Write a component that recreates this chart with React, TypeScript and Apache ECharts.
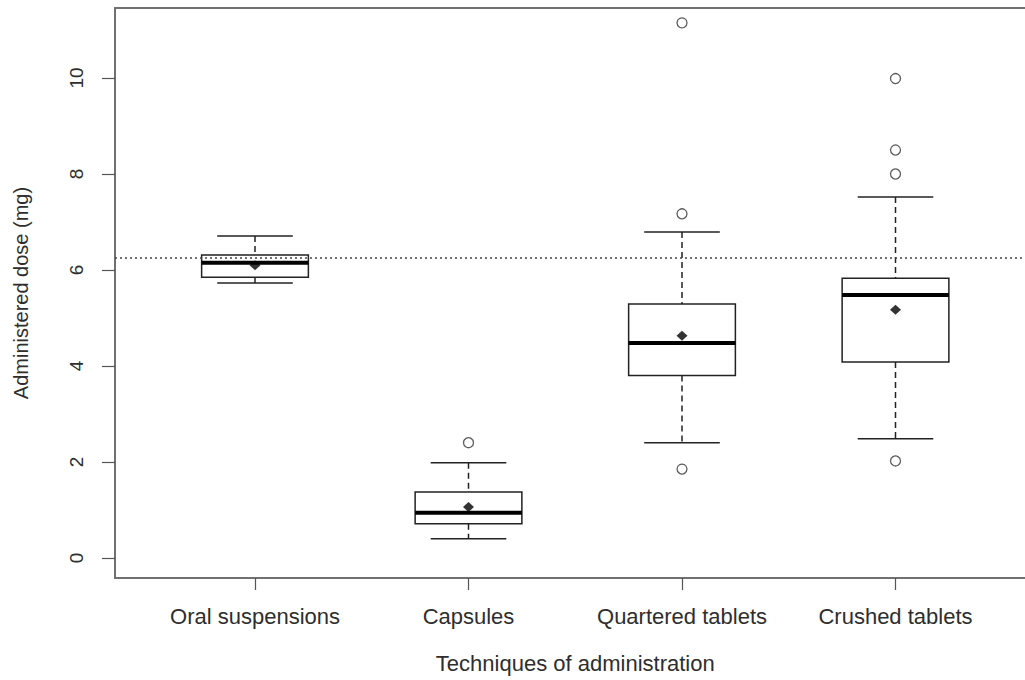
import React, { useEffect, useRef } from "react";
import * as echarts from "echarts";

const categories = ["Oral suspensions", "Capsules", "Quartered tablets", "Crushed tablets"];
const lowerWhisker = [5.73, 0.4, 2.4, 2.48];
const q1 = [5.85, 0.71, 3.8, 4.08];
const median = [6.15, 0.94, 4.48, 5.48];
const q3 = [6.31, 1.375, 5.29, 5.83];
const upperWhisker = [6.71, 1.98, 6.79, 7.52];
const means = [6.1, 1.06, 4.63, 5.17];
const outliers: number[][] = [[], [2.4], [11.15, 7.17, 1.85], [9.99, 8.5, 8.0, 2.02]];
const yTicks = [0, 2, 4, 6, 8, 10];
const referenceDose = 6.25;

const FONT = "'Liberation Sans', Arial, sans-serif";
const TEXT = "#2e2e2e";
const FRAME = { show: true, onZero: false, lineStyle: { color: "#707070", width: 2 } };

export default function App() {
  const ref = useRef<HTMLDivElement>(null);
  useEffect(() => {
    if (!ref.current) return;
    const chart = echarts.init(ref.current, undefined, { renderer: "svg" });
    const boxData = categories.map((_, i) => [i, lowerWhisker[i], q1[i], median[i], q3[i], upperWhisker[i]]);
    const outlierData: number[][] = [];
    outliers.forEach((arr, i) => arr.forEach((v) => outlierData.push([i, v])));
    const meanData = means.map((v, i) => [i, v]);
    const yMin = -0.42;
    const yMax = 11.46;
    chart.setOption({
      animation: false,
      backgroundColor: "#fff",
      textStyle: { fontFamily: FONT },
      grid: [
        { left: 115, top: 8, width: 921, height: 570, outerBoundsMode: "none", containLabel: false },
        { left: 148.25, top: 8, width: 854, height: 570, outerBoundsMode: "none", containLabel: false },
      ],
      xAxis: [
        {
          gridIndex: 0, type: "value", min: 0.34, max: 4.66, position: "bottom",
          axisLine: FRAME, axisTick: { show: false }, axisLabel: { show: false }, splitLine: { show: false },
        },
        {
          gridIndex: 1,
          type: "category",
          data: categories,
          axisLine: { show: false, onZero: false },
          axisTick: { show: true, alignWithLabel: true, length: 12, lineStyle: { color: "#555", width: 1.2 } },
          axisLabel: { fontSize: 22, color: TEXT, margin: 27, fontFamily: FONT, interval: 0 },
          name: "Techniques of administration",
          nameLocation: "middle",
          nameGap: 74,
          nameTextStyle: { fontSize: 22, color: TEXT, fontFamily: FONT, verticalAlign: "top" },
          splitLine: { show: false },
        },
        {
          gridIndex: 0, type: "value", min: 0.34, max: 4.66, position: "top",
          axisLine: FRAME, axisTick: { show: false }, axisLabel: { show: false }, splitLine: { show: false },
        },
      ],
      yAxis: [
        {
          gridIndex: 0,
          type: "value",
          min: yMin,
          max: yMax,
          axisLine: FRAME,
          axisTick: { show: true, length: 13, customValues: yTicks, lineStyle: { color: "#555", width: 1.2 } },
          axisLabel: { fontSize: 19, color: TEXT, rotate: 90, margin: 29, customValues: yTicks, fontFamily: FONT },
          splitLine: { show: false },
          name: "Administered dose (mg)",
          nameLocation: "middle",
          nameGap: 84,
          nameTextStyle: { fontSize: 20, color: TEXT, fontFamily: FONT },
        },
        { gridIndex: 1, type: "value", min: yMin, max: yMax, show: false },
      ],
      series: [
        {
          type: "line",
          xAxisIndex: 0,
          yAxisIndex: 0,
          data: [],
          silent: true,
          markLine: {
            silent: true,
            symbol: "none",
            label: { show: false },
            lineStyle: { type: [2, 3], color: "#444", width: 1.5 },
            data: [{ yAxis: referenceDose }],
          },
        },
        {
          type: "custom",
          xAxisIndex: 1,
          yAxisIndex: 1,
          data: boxData,
          encode: { x: 0, y: [1, 2, 3, 4, 5] },
          renderItem: (params: any, api: any) => {
            const idx = api.value(0);
            const pLo = api.coord([idx, api.value(1)]);
            const pQ1 = api.coord([idx, api.value(2)]);
            const pMed = api.coord([idx, api.value(3)]);
            const pQ3 = api.coord([idx, api.value(4)]);
            const pHi = api.coord([idx, api.value(5)]);
            const band = api.size([1, 0])[0];
            const bh = band * 0.25;
            const ch = band * 0.177;
            const x = pLo[0];
            const stroke = "#222";
            return {
              type: "group",
              children: [
                { type: "line", shape: { x1: x, y1: pHi[1], x2: x, y2: pQ3[1] }, style: { stroke, lineWidth: 1.5, lineDash: [6, 4] } },
                { type: "line", shape: { x1: x, y1: pQ1[1], x2: x, y2: pLo[1] }, style: { stroke, lineWidth: 1.5, lineDash: [6, 4] } },
                { type: "line", shape: { x1: x - ch, y1: pHi[1], x2: x + ch, y2: pHi[1] }, style: { stroke, lineWidth: 1.5 } },
                { type: "line", shape: { x1: x - ch, y1: pLo[1], x2: x + ch, y2: pLo[1] }, style: { stroke, lineWidth: 1.5 } },
                { type: "rect", shape: { x: x - bh, y: pQ3[1], width: 2 * bh, height: pQ1[1] - pQ3[1] }, style: { fill: "#fff", stroke, lineWidth: 1.5 } },
                { type: "line", shape: { x1: x - bh, y1: pMed[1], x2: x + bh, y2: pMed[1] }, style: { stroke: "#000", lineWidth: 4 } },
              ],
            };
          },
          z: 3,
        },
        {
          type: "scatter",
          xAxisIndex: 1,
          yAxisIndex: 1,
          data: outlierData,
          symbol: "circle",
          symbolSize: 10,
          itemStyle: { color: "#fff", borderColor: "#333", borderWidth: 1.3 },
          z: 4,
        },
        {
          type: "scatter",
          xAxisIndex: 1,
          yAxisIndex: 1,
          data: meanData,
          symbol: "diamond",
          symbolSize: [11, 10],
          itemStyle: { color: "#000" },
          z: 5,
        },
      ],
    });
    return () => chart.dispose();
  }, []);
  return <div ref={ref} style={{ position: "fixed", left: 0, top: 0, width: 1025, height: 680 }} />;
}
